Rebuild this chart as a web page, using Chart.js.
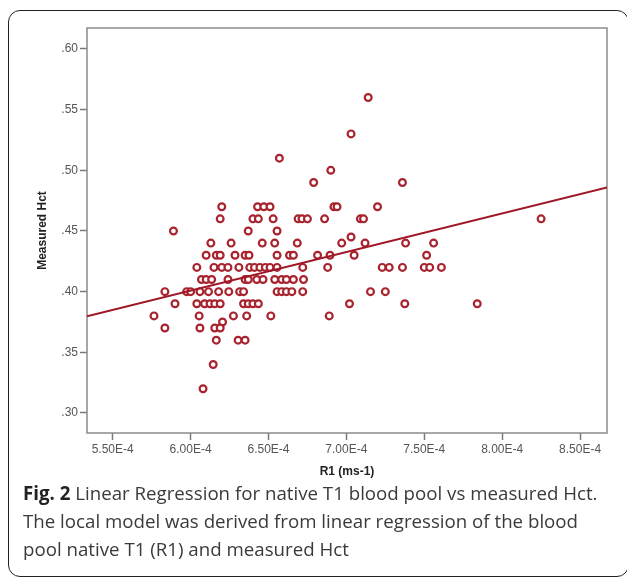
<!DOCTYPE html>
<html>
<head>
<meta charset="utf-8">
<script src="https://cdn.jsdelivr.net/npm/chart.js@4.4.1/dist/chart.umd.min.js"></script>
<style>
html,body{margin:0;padding:0;background:#fff;}
#wrap{position:relative;width:627px;height:578px;overflow:hidden;}
#box{position:absolute;left:8px;top:10px;width:621px;height:567px;border:1.5px solid #222;border-radius:12px;box-sizing:border-box;}
#cv{position:absolute;left:0;top:0;}
#cap{position:absolute;left:23px;top:479px;font-family:'Open Sans',sans-serif;font-size:18.7px;line-height:28px;color:#3a3a3a;white-space:nowrap;}
#cap b{color:#222;}
</style>
</head>
<body>
<div id="wrap">
  <div id="box"></div>
  <canvas id="cv" width="627" height="480"></canvas>
  <div id="cap"><b>Fig. 2</b> Linear Regression for native T1 blood pool vs measured Hct.<br>The local model was derived from linear regression of the blood<br>pool native T1 (R1) and measured Hct</div>
</div>
<script>
'use strict';

// measured Hct levels and the R1 values (in units of 1E-4 ms-1) seen at each level
var hctRows=[.56,.53,.51,.50,.49,.47,.46,.45,.445,.44,.43,.42,.41,.40,.39,.38,.375,.37,.36,.34,.32];
var r1Rows=[
  [7.14],
  [7.03],
  [6.57],
  [6.90],
  [6.79,7.36],
  [6.20,6.43,6.47,6.51,6.92,6.94,7.20],
  [6.19,6.40,6.435,6.53,6.69,6.715,6.75,6.86,7.09,7.11,8.25],
  [5.89,6.37,6.555],
  [7.03],
  [6.13,6.26,6.46,6.54,6.685,6.97,7.12,7.38,7.56],
  [6.10,6.165,6.19,6.285,6.35,6.375,6.555,6.635,6.66,6.815,6.895,7.05,7.515],
  [6.04,6.15,6.20,6.24,6.31,6.38,6.41,6.445,6.48,6.51,6.555,6.72,6.88,7.23,7.275,7.36,7.50,7.535,7.61],
  [6.07,6.10,6.135,6.24,6.35,6.37,6.425,6.465,6.54,6.585,6.615,6.66,6.725],
  [5.835,5.975,6.00,6.06,6.115,6.18,6.245,6.315,6.34,6.555,6.585,6.615,6.65,6.72,7.155,7.25],
  [5.90,6.04,6.09,6.125,6.155,6.19,6.34,6.37,6.40,6.435,7.02,7.375,7.84],
  [5.765,6.055,6.275,6.36,6.515,6.89],
  [6.205],
  [5.835,6.06,6.155,6.19],
  [6.165,6.305,6.35],
  [6.145],
  [6.08]
];
var R1_UNIT=1e-4;

// fitted regression line, read at the frame edges
var fitR1=[5.335e-4,8.673e-4];
var fitHct=[.3797,.4858];

var xTicks=[5.5e-4,6.0e-4,6.5e-4,7.0e-4,7.5e-4,8.0e-4,8.5e-4];
var yTicks=[.30,.35,.40,.45,.50,.55,.60];
var X_MIN=5.335e-4,X_MAX=8.673e-4,Y_MIN=.2835,Y_MAX=.6173;

var pts=[];
for(var i=0;i<hctRows.length;i++){
  for(var j=0;j<r1Rows[i].length;j++)pts.push({x:r1Rows[i][j]*R1_UNIT,y:hctRows[i]});
}
var fitPts=fitR1.map(function(v,k){return{x:v,y:fitHct[k]};});

var RED='#a8232e';
var tickFont={family:"'Liberation Sans', Arial, sans-serif",size:12};
var titleFont={family:"'Liberation Sans', Arial, sans-serif",size:12,weight:'bold'};

var framePlugin={
  id:'frame',
  beforeDatasetsDraw:function(c){
    var a=c.chartArea,ctx=c.ctx;
    ctx.save();ctx.strokeStyle='#8c8c8c';ctx.lineWidth=1.5;
    ctx.strokeRect(a.left,a.top,a.right-a.left,a.bottom-a.top);
    ctx.restore();
  }
};

new Chart(document.getElementById('cv'),{
  type:'scatter',
  data:{datasets:[
    {type:'line',data:fitPts,borderColor:'#a01828',borderWidth:2,pointRadius:0,fill:false,order:0},
    {data:pts,pointStyle:'circle',pointRadius:3.4,borderWidth:2.2,borderColor:RED,backgroundColor:'#fff',order:1}
  ]},
  options:{
    responsive:false,animation:false,events:[],
    layout:{padding:{left:8,top:28,right:20,bottom:0}},
    plugins:{legend:{display:false},tooltip:{enabled:false}},
    scales:{
      x:{type:'linear',min:X_MIN,max:X_MAX,
        afterBuildTicks:function(s){s.ticks=xTicks.map(function(v){return{value:v};});},
        afterFit:function(s){s.height=47;},
        grid:{display:true,drawOnChartArea:false,drawTicks:true,tickLength:7,tickColor:'#7a7a7a',tickWidth:1.5},
        border:{display:false},
        ticks:{color:'#555',font:tickFont,padding:2,maxRotation:0,autoSkip:false,
          callback:function(v){return v.toExponential(2).toUpperCase();}},
        title:{display:true,text:'R1 (ms-1)',color:'#222',font:titleFont,padding:{top:0,bottom:1}}
      },
      y:{type:'linear',min:Y_MIN,max:Y_MAX,
        afterBuildTicks:function(s){s.ticks=yTicks.map(function(v){return{value:v};});},
        afterFit:function(s){s.width=79;},
        grid:{display:true,drawOnChartArea:false,drawTicks:true,tickLength:7,tickColor:'#7a7a7a',tickWidth:1.5},
        border:{display:false},
        ticks:{color:'#555',font:tickFont,padding:2,autoSkip:false,
          callback:function(v){return v.toFixed(2).replace(/^0/,'');}},
        title:{display:true,text:'Measured Hct',color:'#222',font:titleFont,padding:{top:27,bottom:0}}
      }
    }
  },
  plugins:[framePlugin]
});
</script>
</body>
</html>
